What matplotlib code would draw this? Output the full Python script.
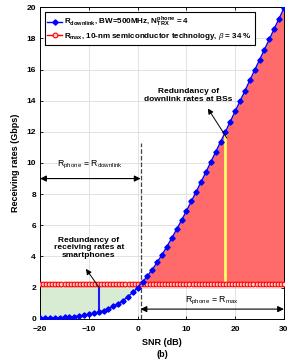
import numpy as np
import matplotlib
matplotlib.use('Agg')
import matplotlib.pyplot as plt

# SNR grid and rates
snr_db = list(range(-20, 31))
r_downlink = [0.03, 0.04, 0.05, 0.06, 0.07, 0.09, 0.11, 0.14, 0.18, 0.22,
              0.28, 0.34, 0.42, 0.53, 0.65, 0.79, 0.97, 1.17, 1.41, 1.69,
              2.00, 2.35, 2.74, 3.16, 3.62, 4.11, 4.63, 5.18, 5.74, 6.32,
              6.92, 7.53, 8.15, 8.78, 9.41, 10.06, 10.70, 11.35, 12.00, 12.66,
              13.32, 13.97, 14.63, 15.30, 15.96, 16.62, 17.28, 17.94, 18.61, 19.27,
              19.93]
snr_max = list(np.linspace(-20, 30, 81))
r_max = [2.2] * 81

x_cross = 0.6        # where R_downlink meets R_max
x_phone_mark = -8    # blue redundancy bar
x_bs_mark = 18       # yellow redundancy bar

plt.rcParams['font.family'] = ['Liberation Sans', 'DejaVu Sans']
plt.rcParams['mathtext.fontset'] = 'custom'
plt.rcParams['mathtext.rm'] = 'Liberation Sans'
plt.rcParams['mathtext.it'] = 'Liberation Sans:italic'
plt.rcParams['mathtext.bf'] = 'Liberation Sans:bold'

fig = plt.figure(figsize=(3.04, 3.61), dpi=100)
ax = fig.add_axes([0.132, 0.117, 0.802, 0.863])

x = np.array(snr_db, dtype=float)
yb = np.array(r_downlink)
yr = np.interp(x, snr_max, r_max)

ax.fill_between(x, yb, yr, where=yb <= yr, interpolate=True,
                color='#d8ecd4', linewidth=0, zorder=1)
ax.fill_between(x, yb, yr, where=yb >= yr, interpolate=True,
                color='#ff6b6b', linewidth=0, zorder=1)

ax.plot(snr_max, r_max, '-o', color='red', lw=1.0, ms=3.4,
        mfc='#ffd0d0', mew=0.8, zorder=4,
        label=r'$\mathbf{R_{max}}$, 10-nm semiconductor technology, $\beta$ = 34 %')
ax.plot(snr_db, r_downlink, '-D', color='blue', lw=1.0, ms=2.7, zorder=5,
        label=r'$\mathbf{R_{downlink}}$, BW=500MHz, $\mathbf{N_{TRX}^{phone}}$ = 4')

# vertical redundancy bars
yb_phone = np.interp(x_phone_mark, x, yb)
yb_bs = np.interp(x_bs_mark, x, yb)
ax.plot([x_phone_mark, x_phone_mark], [yb_phone, 2.2], color='#1a1aff', lw=1.5, zorder=3)
ax.plot([x_bs_mark, x_bs_mark], [2.2, yb_bs], color='#ffff66', lw=2.0, zorder=3)

# dashed divider
ax.plot([x_cross, x_cross], [0, 11.3], '--', color='#444444', lw=0.9, zorder=3)

# double arrows
arr = dict(arrowstyle='<|-|>', color='black', lw=0.8, mutation_scale=9,
           shrinkA=0, shrinkB=0)
ax.annotate('', xy=(-20, 9), xytext=(x_cross, 9), arrowprops=arr)
ax.annotate('', xy=(x_cross, 0.62), xytext=(30, 0.62), arrowprops=arr)
ax.text(-9.7, 9.9, r'R$_{\mathrm{phone}}$ = R$_{\mathrm{downlink}}$', fontsize=6.3,
        ha='center', va='center')
ax.text(15.3, 1.15, r'R$_{\mathrm{phone}}$ = R$_{\mathrm{max}}$', fontsize=6.3,
        ha='center', va='center')

# redundancy notes
one_arrow = dict(arrowstyle='-|>', color='black', lw=0.7, mutation_scale=8,
                 shrinkA=0, shrinkB=0)
ax.text(-10.0, 4.55, 'Redundancy of\nreceiving rates at\nsmartphones', fontsize=6,
        fontweight='bold', ha='center', va='center', linespacing=1.15, zorder=6)
ax.annotate('', xy=(-10.6, 3.2), xytext=(-8.0, 2.05), arrowprops=one_arrow, zorder=6)
ax.text(10.4, 14.35, 'Redundancy of\ndownlink rates at BSs', fontsize=6,
        fontweight='bold', ha='center', va='center', linespacing=1.15, zorder=6)
ax.annotate('', xy=(14.4, 13.5), xytext=(18.3, 11.6), arrowprops=one_arrow, zorder=6)

ax.set_xlim(-20, 30)
ax.set_ylim(0, 20)
ax.set_xticks([-20, -10, 0, 10, 20, 30])
ax.set_yticks(range(0, 21, 2))
ax.grid(True, color='#dddddd', lw=0.6, zorder=0)
ax.set_axisbelow(True)
ax.tick_params(direction='in', top=True, right=True, labelsize=6, length=2.5,
               width=0.6)
ax.tick_params(axis='x', pad=5)
ax.tick_params(axis='y', pad=3)
for lbl in ax.get_xticklabels() + ax.get_yticklabels():
    lbl.set_fontweight('bold')
for s in ax.spines.values():
    s.set_linewidth(0.7)

ax.set_xlabel('SNR (dB)\n(b)', fontsize=6.5, fontweight='bold', labelpad=4,
              linespacing=1.45)
ax.set_ylabel('Receiving rates (Gbps)', fontsize=6.5, fontweight='bold', labelpad=5)

handles, labels = ax.get_legend_handles_labels()
leg = ax.legend(handles[::-1], labels[::-1], loc='upper left',
                prop={'weight': 'bold', 'size': 5.8}, frameon=True, fancybox=False,
                edgecolor='black', framealpha=1, borderpad=0.3, handlelength=1.8,
                handletextpad=0.3, labelspacing=0.3, borderaxespad=0.6)
leg.get_frame().set_linewidth(0.8)

fig.savefig('out.png', dpi=100)
